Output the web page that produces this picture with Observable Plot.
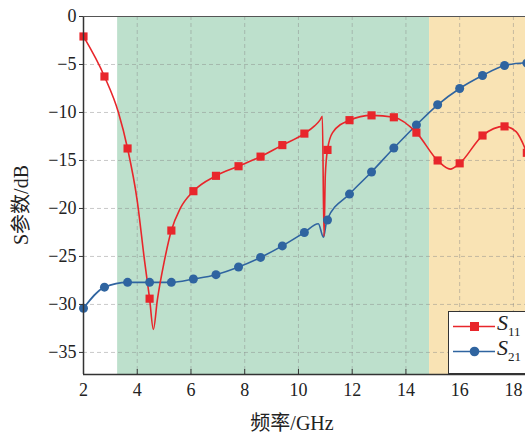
<!DOCTYPE html>
<html>
<head>
<meta charset="utf-8">
<script src="https://cdn.jsdelivr.net/npm/d3@7"></script>
<script src="https://cdn.jsdelivr.net/npm/@observablehq/plot@0.6"></script>
<style>
  html, body { margin: 0; padding: 0; background: #fff; }
  #wrap { position: relative; width: 525px; height: 436px; overflow: hidden; }
  #wrap svg text { font-family: "Liberation Serif", "Noto Sans CJK SC", serif; }
  #legend { position: absolute; left: 448px; top: 311px; width: 90px; height: 63px;
    background: #fff; border: 1.5px solid #333; box-sizing: border-box; }
  .lrow { position: absolute; left: 0; height: 24px; width: 90px; }
  .lab { position: absolute; left: 48px; top: -4px; font-family: "Liberation Serif", serif;
    font-style: italic; font-size: 22px; color: #222; }
  .lab sub { font-style: normal; font-size: 13px; vertical-align: -6px; }
</style>
</head>
<body>
<div id="wrap"></div>
<script>
// Bands (GHz)
const bandStart = [3.27, 14.88];
const bandEnd   = [14.88, 19];
const bandColor = ["#bde0cc", "#f9e3b4"];

// S11 curve
const s11X = [2, 2.78, 3.3, 3.64, 4.0, 4.27, 4.46, 4.6, 4.75, 5.0, 5.27, 5.6, 6.09, 6.93, 7.77, 8.59, 9.4, 10.22, 10.6, 10.8, 10.89, 10.95, 11.0, 11.08, 11.27, 11.9, 12.72, 13.55, 14.39, 15.18, 15.65, 16.0, 16.85, 17.67, 18.1, 18.5];
const s11Y = [-2.08, -6.25, -10.0, -13.75, -19.2, -25.4, -29.4, -32.6, -29.5, -25.6, -22.3, -20.0, -18.2, -16.6, -15.6, -14.6, -13.4, -12.2, -11.4, -10.8, -10.4, -22.9, -16.5, -13.9, -12.1, -10.8, -10.3, -10.5, -12.1, -15.0, -15.9, -15.3, -12.4, -11.45, -12.0, -14.2];

// S21 curve
const s21X = [2, 2.78, 3.64, 4.46, 5.27, 6.09, 6.93, 7.77, 8.59, 9.4, 10.22, 10.74, 10.93, 11.06, 11.9, 12.72, 13.55, 14.39, 15.18, 16.0, 16.85, 17.67, 18.5];
const s21Y = [-30.4, -28.2, -27.7, -27.7, -27.7, -27.35, -26.9, -26.1, -25.1, -23.9, -22.5, -21.6, -23.0, -21.2, -18.5, -16.2, -13.7, -11.3, -9.2, -7.5, -6.15, -5.1, -4.8];

// Markers
const markX   = [2, 2.78, 3.64, 4.46, 5.27, 6.09, 6.93, 7.77, 8.59, 9.4, 10.22, 11.08, 11.9, 12.72, 13.55, 14.39, 15.18, 16.0, 16.85, 17.67, 18.5];
const markS11 = [-2.08, -6.25, -13.75, -29.4, -22.3, -18.2, -16.6, -15.6, -14.6, -13.4, -12.2, -13.9, -10.8, -10.3, -10.5, -12.1, -15.0, -15.3, -12.4, -11.45, -14.2];
const markS21 = [-30.4, -28.2, -27.7, -27.7, -27.7, -27.35, -26.9, -26.1, -25.1, -23.9, -22.5, -21.2, -18.5, -16.2, -13.7, -11.3, -9.2, -7.5, -6.15, -5.1, -4.85];

const xTicks = [2, 4, 6, 8, 10, 12, 14, 16, 18];
const yTicks = [0, -5, -10, -15, -20, -25, -30, -35];
const xDomain = [2, 18.45];
const yDomain = [-37.3, 0];

const RED = "#e8262b", BLUE = "#2f64a0";
const SERIF = "'Liberation Serif', 'Noto Sans CJK SC', serif";

const bands = bandStart.map((s, i) => ({x1: s, x2: Math.min(bandEnd[i], xDomain[1]), c: bandColor[i]}));
const s11 = s11X.map((x, i) => ({x, y: s11Y[i]}));
const s21 = s21X.map((x, i) => ({x, y: s21Y[i]}));
const m11 = markX.map((x, i) => ({x, y: markS11[i]}));
const m21 = markX.map((x, i) => ({x, y: markS21[i]}));

const chart = Plot.plot({
  width: 525, height: 436,
  marginTop: 16, marginBottom: 62, marginLeft: 83, marginRight: 0,
  style: {fontFamily: SERIF, fontSize: "18px", color: "#222", background: "#fff"},
  x: {domain: xDomain, ticks: xTicks},
  y: {domain: yDomain, ticks: yTicks},
  marks: [
    Plot.rect(bands, {x1: "x1", x2: "x2", fill: "c"}),
    Plot.gridX(xTicks, {stroke: "#888", strokeOpacity: 0.45, strokeDasharray: "4,3"}),
    Plot.gridY(yTicks, {stroke: "#888", strokeOpacity: 0.45, strokeDasharray: "4,3"}),
    Plot.line(s21, {x: "x", y: "y", stroke: BLUE, strokeWidth: 1.6, curve: "monotone-x"}),
    Plot.line(s11, {x: "x", y: "y", stroke: RED, strokeWidth: 1.6, curve: "monotone-x"}),
    Plot.dot(m21, {x: "x", y: "y", r: 4.5, fill: BLUE, stroke: "none", symbol: "circle"}),
    Plot.dot(m11, {x: "x", y: "y", r: 4.6, fill: RED, stroke: "none", symbol: "square"}),
    Plot.ruleX([xDomain[0]], {stroke: "#333", strokeWidth: 1.5}),
    Plot.ruleY([yDomain[0]], {stroke: "#333", strokeWidth: 1.5}),
    Plot.ruleY([yDomain[1]], {stroke: "#555", strokeWidth: 1.2}),
    Plot.axisX(xTicks, {tickSize: -5, tickPadding: 14, stroke: "#333", label: null, fontSize: 18, fontFamily: SERIF}),
    Plot.axisY(yTicks, {tickSize: 4, tickPadding: 3, stroke: "#333", label: null, fontSize: 18, fontFamily: SERIF})
  ]
});

const wrap = document.getElementById("wrap");
wrap.appendChild(chart);

// Axis titles
const svg = d3.select(chart);
svg.append("text")
  .attr("x", 292).attr("y", 430)
  .attr("text-anchor", "middle")
  .style("font-family", SERIF)
  .style("font-size", "20px").attr("fill", "#222")
  .text("频率/GHz");
svg.append("text")
  .attr("transform", "translate(28,205) rotate(-90)")
  .attr("text-anchor", "middle")
  .style("font-family", SERIF)
  .style("font-size", "20px").attr("fill", "#222")
  .text("S参数/dB");

// Legend
const series = [
  {name: "11", color: RED, shape: "square"},
  {name: "21", color: BLUE, shape: "circle"}
];
const legend = document.createElement("div");
legend.id = "legend";
series.forEach((s, i) => {
  const row = document.createElement("div");
  row.className = "lrow";
  row.style.top = (2 + i * 25) + "px";
  const sw = s.shape === "square"
    ? `<rect x="21" y="8" width="9" height="9" fill="${s.color}"/>`
    : `<circle cx="25.5" cy="12.5" r="4.8" fill="${s.color}"/>`;
  row.innerHTML = `<svg width="48" height="24" style="position:absolute;left:0;top:0">
      <line x1="4" x2="46" y1="12.5" y2="12.5" stroke="${s.color}" stroke-width="1.6"/>${sw}</svg>
      <span class="lab">S<sub>${s.name}</sub></span>`;
  legend.appendChild(row);
});
wrap.appendChild(legend);
</script>
</body>
</html>
